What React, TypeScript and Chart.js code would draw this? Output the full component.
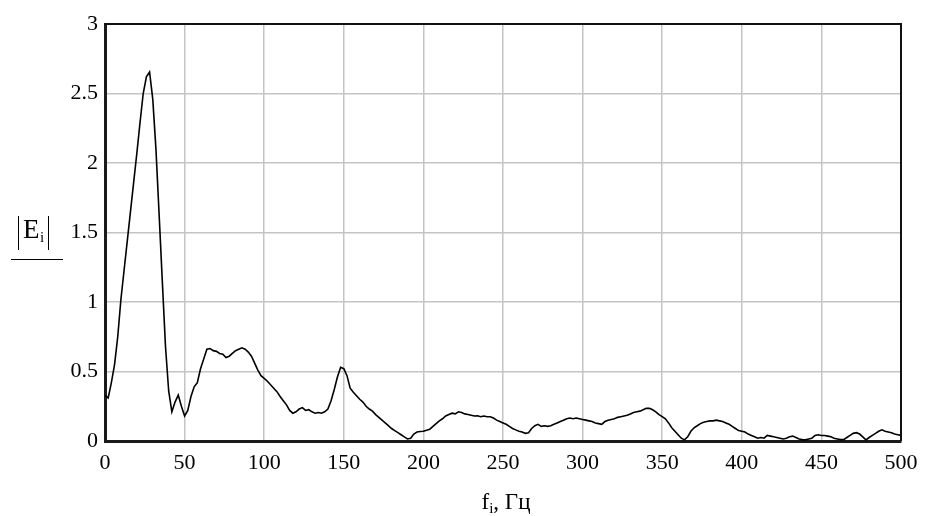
import React, { useEffect, useRef } from "react";
import { Chart, registerables } from "chart.js";

Chart.register(...registerables);

// Frequency step between samples, Hz
const FREQ_STEP = 2;

// |E_i| values, f = 0, 2, 4, ... 500 Hz
const magnitudes: number[] = [
  0.33, 0.31, 0.42, 0.55, 0.75, 1.02, 1.23, 1.44, 1.65, 1.86, // 0-18
  2.07, 2.29, 2.5, 2.62, 2.655, 2.46, 2.1, 1.63, 1.15, 0.68, // 20-38
  0.36, 0.21, 0.28, 0.33, 0.25, 0.18, 0.22, 0.32, 0.39, 0.42, // 40-58
  0.52, 0.59, 0.66, 0.665, 0.65, 0.645, 0.63, 0.625, 0.6, 0.61, // 60-78
  0.63, 0.65, 0.66, 0.67, 0.66, 0.64, 0.61, 0.56, 0.51, 0.47, // 80-98
  0.45, 0.43, 0.405, 0.38, 0.355, 0.32, 0.29, 0.26, 0.22, 0.2, // 100-118
  0.21, 0.23, 0.24, 0.22, 0.225, 0.21, 0.2, 0.205, 0.2, 0.21, // 120-138
  0.23, 0.29, 0.37, 0.46, 0.53, 0.52, 0.47, 0.38, 0.35, 0.325, // 140-158
  0.3, 0.28, 0.25, 0.23, 0.215, 0.19, 0.17, 0.15, 0.13, 0.11, // 160-178
  0.09, 0.075, 0.06, 0.045, 0.03, 0.015, 0.02, 0.05, 0.065, 0.068, // 180-198
  0.07, 0.078, 0.085, 0.105, 0.125, 0.145, 0.16, 0.18, 0.19, 0.2, // 200-218
  0.195, 0.21, 0.205, 0.195, 0.19, 0.185, 0.18, 0.182, 0.175, 0.18, // 220-238
  0.175, 0.175, 0.165, 0.15, 0.14, 0.13, 0.12, 0.105, 0.09, 0.08, // 240-258
  0.07, 0.065, 0.055, 0.06, 0.09, 0.11, 0.12, 0.105, 0.11, 0.105, // 260-278
  0.11, 0.12, 0.13, 0.14, 0.15, 0.16, 0.165, 0.16, 0.165, 0.16, // 280-298
  0.155, 0.15, 0.145, 0.14, 0.13, 0.125, 0.12, 0.14, 0.15, 0.155, // 300-318
  0.16, 0.17, 0.175, 0.18, 0.185, 0.195, 0.205, 0.21, 0.215, 0.225, // 320-338
  0.235, 0.235, 0.225, 0.21, 0.19, 0.175, 0.16, 0.13, 0.095, 0.07, // 340-358
  0.045, 0.02, 0.008, 0.03, 0.07, 0.095, 0.11, 0.125, 0.135, 0.14, // 360-378
  0.145, 0.145, 0.15, 0.145, 0.14, 0.13, 0.12, 0.105, 0.09, 0.075, // 380-398
  0.07, 0.065, 0.05, 0.04, 0.03, 0.02, 0.025, 0.02, 0.04, 0.035, // 400-418
  0.03, 0.025, 0.02, 0.015, 0.02, 0.03, 0.035, 0.025, 0.015, 0.01, // 420-438
  0.008, 0.015, 0.02, 0.04, 0.045, 0.04, 0.04, 0.035, 0.03, 0.02, // 440-458
  0.015, 0.01, 0.01, 0.025, 0.04, 0.055, 0.06, 0.05, 0.03, 0.008, // 460-478
  0.025, 0.04, 0.055, 0.07, 0.08, 0.07, 0.065, 0.06, 0.05, 0.045, // 480-498
  0.04, // 500
];

const X_MIN = 0;
const X_MAX = 500;
const X_STEP = 50;
const Y_MIN = 0;
const Y_MAX = 3;
const Y_STEP = 0.5;

const SERIF = '"Liberation Serif", "Times New Roman", serif';

const framePlugin = {
  id: "frame",
  afterDraw(chart: any) {
    const { ctx, chartArea } = chart;
    ctx.save();
    ctx.strokeStyle = "#111";
    ctx.lineWidth = 2;
    ctx.beginPath();
    ctx.moveTo(chartArea.left, chartArea.top);
    ctx.lineTo(chartArea.right, chartArea.top);
    ctx.lineTo(chartArea.right, chartArea.bottom);
    ctx.stroke();
    ctx.restore();
  },
};

export default function App() {
  const canvasRef = useRef<HTMLCanvasElement | null>(null);

  useEffect(() => {
    if (!canvasRef.current) return;
    const points = magnitudes.map((v, i) => ({ x: i * FREQ_STEP, y: v }));
    const chart = new Chart(canvasRef.current, {
      type: "line",
      data: {
        datasets: [
          {
            data: points,
            borderColor: "#000",
            borderWidth: 1.6,
            pointRadius: 0,
            tension: 0,
            fill: false,
          },
        ],
      },
      options: {
        animation: false,
        responsive: true,
        maintainAspectRatio: false,
        layout: { padding: { top: 24, right: 24, bottom: 0, left: 0 } },
        plugins: {
          legend: { display: false },
          tooltip: { enabled: false },
        },
        scales: {
          x: {
            type: "linear",
            min: X_MIN,
            max: X_MAX,
            ticks: {
              stepSize: X_STEP,
              color: "#000",
              font: { family: SERIF, size: 22 },
              padding: 9,
              maxRotation: 0,
              autoSkip: false,
            },
            grid: { color: "#c4c4c4", lineWidth: 1.5, drawTicks: false },
            border: { color: "#1a1a1a", width: 3 },
            afterFit: (s: any) => {
              s.height = 75;
              s.paddingRight = 0;
              s.paddingLeft = 0;
            },
          },
          y: {
            min: Y_MIN,
            max: Y_MAX,
            ticks: {
              stepSize: Y_STEP,
              color: "#000",
              font: { family: SERIF, size: 22 },
              padding: 7,
              callback: (v: any) => String(Number(v)),
            },
            grid: { color: "#c4c4c4", lineWidth: 1.5, drawTicks: false },
            border: { color: "#1a1a1a", width: 3 },
            afterFit: (s: any) => {
              s.width = 105;
              s.paddingTop = 0;
              s.paddingBottom = 0;
            },
          },
        },
      },
      plugins: [framePlugin],
    });
    return () => chart.destroy();
  }, []);

  const abs = (style: React.CSSProperties): React.CSSProperties => ({
    position: "absolute",
    ...style,
  });

  return (
    <div
      style={{
        position: "fixed",
        left: 0,
        top: 0,
        width: 925,
        height: 516,
        background: "#fff",
        fontFamily: SERIF,
        color: "#000",
      }}
    >
      <canvas ref={canvasRef} />
      {/* y-axis title |E_i| */}
      <div style={abs({ left: 18, top: 216, height: 34, borderLeft: "1.5px solid #000" })} />
      <div style={abs({ left: 23, top: 216, fontSize: 27, lineHeight: "27px" })}>E</div>
      <div style={abs({ left: 40, top: 230, fontSize: 15, lineHeight: "15px" })}>i</div>
      <div style={abs({ left: 47.5, top: 216, height: 34, borderLeft: "1.5px solid #000" })} />
      <div style={abs({ left: 11, top: 259, width: 52, borderTop: "1.5px solid #000" })} />
      {/* x-axis title f_i, Гц */}
      <div
        style={abs({
          left: 406,
          top: 490,
          width: 200,
          textAlign: "center",
          fontSize: 23,
          lineHeight: "23px",
          whiteSpace: "nowrap",
        })}
      >
        f<span style={{ fontSize: 15, position: "relative", top: 4 }}>i</span>, Гц
      </div>
    </div>
  );
}
